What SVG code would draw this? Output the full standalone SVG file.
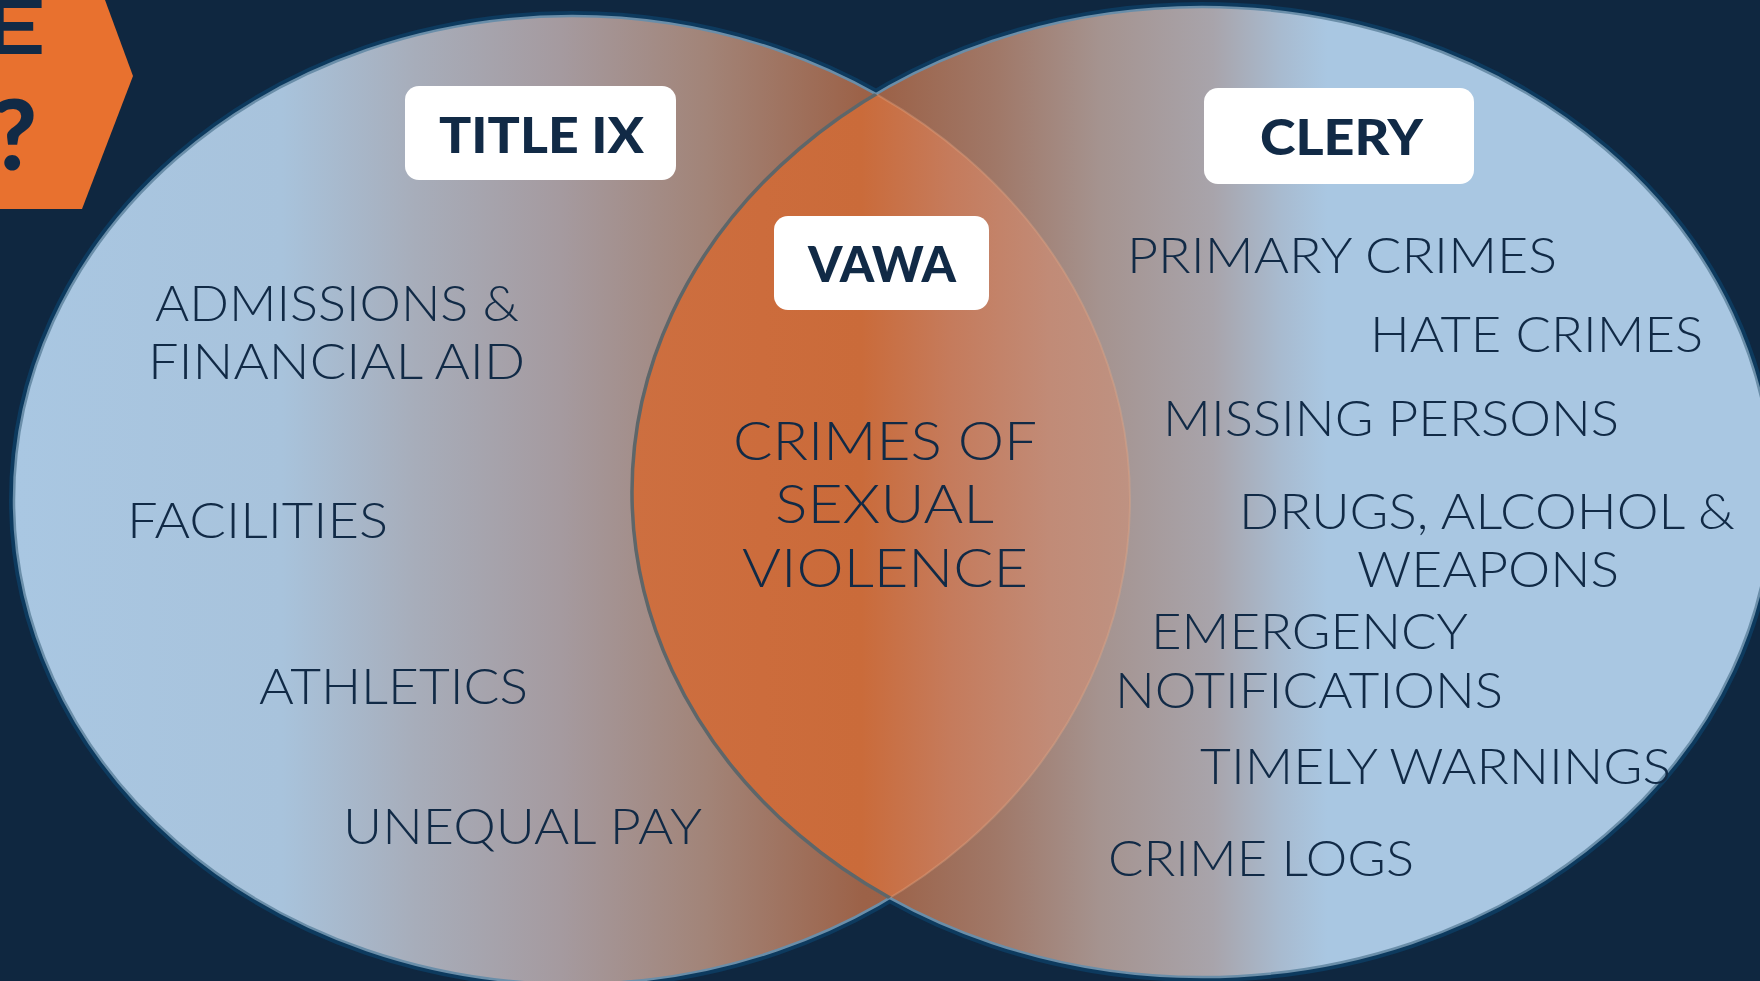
<svg xmlns="http://www.w3.org/2000/svg" width="1760" height="981" viewBox="0 0 1760 981">
  <style>
    .body { font-family: Lato, Inter, "Liberation Sans", sans-serif; font-weight: 300; font-size: 49px; fill: #112a46; }
    .center { font-size: 54px; }
    .label { font-family: Lato, Inter, "Liberation Sans", sans-serif; font-weight: 900; font-size: 50px; fill: #112a46; }
    .tab { font-family: Lato, "Liberation Sans", sans-serif; font-weight: 900; fill: #112a46; }
    .box { fill: #ffffff; }
    .glow { fill: none; stroke: #0d3a5e; stroke-width: 10; }
    .edge { fill: none; stroke: #6a8ea9; stroke-width: 2.5; }
  </style>
  <defs>
    <linearGradient id="gL" gradientUnits="userSpaceOnUse" x1="14" y1="0" x2="1130" y2="0">
      <stop offset="0" stop-color="#a9c7e2"/>
      <stop offset="0.24" stop-color="#a8c3dc"/>
      <stop offset="0.36" stop-color="#a7adba"/>
      <stop offset="0.49" stop-color="#a59a9f"/>
      <stop offset="0.62" stop-color="#a28478"/>
      <stop offset="0.76" stop-color="#9c6248"/>
      <stop offset="1" stop-color="#9a5c42"/>
    </linearGradient>
    <linearGradient id="gR" gradientUnits="userSpaceOnUse" x1="632" y1="0" x2="1772" y2="0">
      <stop offset="0" stop-color="#9a5c42"/>
      <stop offset="0.22" stop-color="#9c6248"/>
      <stop offset="0.32" stop-color="#a07868"/>
      <stop offset="0.41" stop-color="#a5938f"/>
      <stop offset="0.51" stop-color="#a8a4ab"/>
      <stop offset="0.57" stop-color="#a8bbd0"/>
      <stop offset="0.61" stop-color="#a9c7e2"/>
      <stop offset="1" stop-color="#a9c7e2"/>
    </linearGradient>
    <linearGradient id="gLens" gradientUnits="userSpaceOnUse" x1="632" y1="0" x2="1130" y2="0">
      <stop offset="0" stop-color="#cd6f40"/>
      <stop offset="0.26" stop-color="#cc6c3c"/>
      <stop offset="0.46" stop-color="#ca6b3a"/>
      <stop offset="0.64" stop-color="#c57b5c"/>
      <stop offset="0.84" stop-color="#c18b77"/>
      <stop offset="1" stop-color="#be9282"/>
    </linearGradient>
    <clipPath id="clipL">
      <ellipse cx="572" cy="500" rx="558" ry="484"/>
    </clipPath>
    <clipPath id="clipR">
      <ellipse cx="1202" cy="492" rx="570" ry="485"/>
    </clipPath>
  </defs>

  <rect width="1760" height="981" fill="#0f2740"/>

  <g id="corner-tab">
    <polygon points="0,0 105,0 133,76 82,209 0,209" fill="#e8712f"/>
    <text class="tab" x="-24" y="54" font-size="77" textLength="70" lengthAdjust="spacingAndGlyphs">E</text>
    <text class="tab" x="37" y="170" font-size="97" text-anchor="end">?</text>
  </g>

  <g id="circle-outlines-glow">
    <ellipse class="glow" cx="572" cy="500" rx="558" ry="484"/>
    <ellipse class="glow" cx="1202" cy="492" rx="570" ry="485"/>
  </g>

  <g id="title-ix-circle">
    <ellipse cx="572" cy="500" rx="558" ry="484" fill="url(#gL)"/>
    <ellipse class="edge" cx="572" cy="500" rx="558" ry="484"/>
  </g>

  <g id="clery-circle">
    <ellipse cx="1202" cy="492" rx="570" ry="485" fill="url(#gR)"/>
    <ellipse class="edge" cx="1202" cy="492" rx="570" ry="485"/>
  </g>

  <g id="vawa-overlap">
    <ellipse cx="1202" cy="492" rx="570" ry="485" fill="url(#gLens)" clip-path="url(#clipL)"/>
    <ellipse cx="572" cy="500" rx="558" ry="484" fill="none" stroke="#e6a888" stroke-opacity="0.35" stroke-width="2" clip-path="url(#clipR)"/>
    <ellipse cx="1202" cy="492" rx="570" ry="485" fill="none" stroke="#5e6669" stroke-width="3.5" clip-path="url(#clipL)"/>
  </g>

  <g id="title-ix">
    <rect class="box" x="405" y="86" width="271" height="94" rx="14"/>
    <text class="label" x="439" y="153" textLength="205" lengthAdjust="spacingAndGlyphs">TITLE IX</text>
  </g>
  <g id="vawa">
    <rect class="box" x="774" y="216" width="215" height="94" rx="14"/>
    <text class="label" x="808" y="282" textLength="148" lengthAdjust="spacingAndGlyphs">VAWA</text>
  </g>
  <g id="clery">
    <rect class="box" x="1204" y="88" width="270" height="96" rx="14"/>
    <text class="label" x="1260" y="155" textLength="163" lengthAdjust="spacingAndGlyphs">CLERY</text>
  </g>

  <g id="title-ix-items">
    <text class="body" x="155" y="321" textLength="364" lengthAdjust="spacingAndGlyphs">ADMISSIONS &amp;</text>
    <text class="body" x="148" y="379" textLength="377" lengthAdjust="spacingAndGlyphs">FINANCIAL AID</text>
    <text class="body" x="127" y="538" textLength="261" lengthAdjust="spacingAndGlyphs">FACILITIES</text>
    <text class="body" x="259" y="704" textLength="269" lengthAdjust="spacingAndGlyphs">ATHLETICS</text>
    <text class="body" x="343" y="844" textLength="359" lengthAdjust="spacingAndGlyphs">UNEQUAL PAY</text>
  </g>

  <g id="vawa-items">
    <text class="body center" x="733" y="460" textLength="304" lengthAdjust="spacingAndGlyphs">CRIMES OF</text>
    <text class="body center" x="775" y="523" textLength="219" lengthAdjust="spacingAndGlyphs">SEXUAL</text>
    <text class="body center" x="742" y="587" textLength="286" lengthAdjust="spacingAndGlyphs">VIOLENCE</text>
  </g>

  <g id="clery-items">
    <text class="body" x="1127" y="273" textLength="430" lengthAdjust="spacingAndGlyphs">PRIMARY CRIMES</text>
    <text class="body" x="1370" y="352" textLength="333" lengthAdjust="spacingAndGlyphs">HATE CRIMES</text>
    <text class="body" x="1163" y="436" textLength="456" lengthAdjust="spacingAndGlyphs">MISSING PERSONS</text>
    <text class="body" x="1239" y="529" textLength="496" lengthAdjust="spacingAndGlyphs">DRUGS, ALCOHOL &amp;</text>
    <text class="body" x="1357" y="587" textLength="262" lengthAdjust="spacingAndGlyphs">WEAPONS</text>
    <text class="body" x="1151" y="649" textLength="317" lengthAdjust="spacingAndGlyphs">EMERGENCY</text>
    <text class="body" x="1115" y="708" textLength="388" lengthAdjust="spacingAndGlyphs">NOTIFICATIONS</text>
    <text class="body" x="1200" y="784" textLength="471" lengthAdjust="spacingAndGlyphs">TIMELY WARNINGS</text>
    <text class="body" x="1108" y="876" textLength="306" lengthAdjust="spacingAndGlyphs">CRIME LOGS</text>
  </g>
</svg>
